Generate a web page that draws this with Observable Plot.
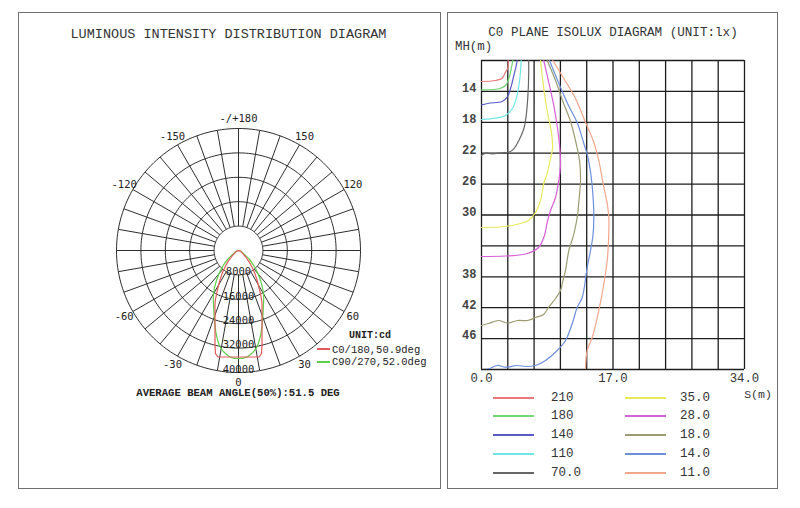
<!DOCTYPE html>
<html><head><meta charset="utf-8">
<script src="https://cdn.jsdelivr.net/npm/d3@7"></script>
<script src="https://cdn.jsdelivr.net/npm/@observablehq/plot@0.6"></script>
<style>
body{margin:0;background:#fff;}
#page{position:relative;width:800px;height:508px;background:#fff;overflow:hidden;font-family:"Liberation Mono","DejaVu Sans Mono",monospace;color:#333;}
.panel{position:absolute;border:1.5px solid #707070;box-sizing:border-box;}
.t{position:absolute;white-space:nowrap;line-height:1;}
.sw{position:absolute;height:2px;}
.plot{position:absolute;}
</style></head><body><div id="page"></div>
<script>
// ---------- DATA ----------
// Luminous intensity distribution (angle in degrees from nadir, intensity in cd)
const c0Angles = [-90,-75,-60,-49,-43,-40,-36,-33,-30,-27,-25,-24,-22,-20,-18,-16,-14,-12.6,-11,-9,-5,0,5,9,11,12.6,14,16,18,20,22,24,25,27,30,33,36,40,43,49,60,75,90];
const c0Cd     = [0,400,1200,3000,5200,6600,8900,10800,13000,15800,17900,18940,20570,22530,24930,27950,31850,34600,35570,35350,35050,34920,35050,35350,35570,34600,31850,27950,24930,22530,20570,18940,17900,15800,13000,10800,8900,6600,5200,3000,1200,400,0];
const c90Angles = [-90,-70,-56,-50.7,-43.4,-36.3,-30.2,-24.4,-18.9,-14.5,-10.5,-6.6,-3.2,0,3.2,6.6,10.5,14.5,18.9,24.4,30.2,36.3,43.4,50.7,56,70,90];
const c90Cd     = [0,800,2360,4660,8120,12200,16300,19800,24260,28790,32350,34330,35300,35400,35300,34330,32350,28790,24260,19800,16300,12200,8120,4660,2360,800,0];
const ringValues = [8000,16000,24000,32000,40000];
const angleTicks = [180,-150,150,-120,120,-60,60,-30,30,0];
const angleTickLabels = ["-/+180","-150","150","-120","120","-60","60","-30","30","0"];

// Isolux contours: [S (m), MH (m)]
const lux210 = [[0,12.72],[1.81,12.59],[2.67,12.29],[3.10,11.52],[3.40,11.0],[3.45,10.0]];
const lux180 = [[0,13.79],[2.24,13.66],[3.10,13.24],[3.53,12.37],[3.84,11.08],[4.05,10]];
const lux140 = [[0,15.74],[0.95,15.53],[2.67,15.31],[3.32,14.75],[3.75,13.66],[4.18,11.94],[4.49,10.65],[4.61,10]];
const lux110 = [[0,17.64],[1.81,17.47],[3.10,17.12],[3.97,16.25],[4.49,14.96],[4.83,13.24],[5.04,11.52],[5.13,10]];
const lux70  = [[0,22.3],[0.52,22.0],[1.38,22.08],[2.67,21.95],[3.53,21.87],[4.18,21.43],[4.83,20.36],[5.47,18.84],[5.78,17.12],[6.0,14.53],[6.1,11.94],[6.1,10]];
const lux35  = [[7.63,10],[8.05,13.62],[8.53,16.73],[9.05,19.32],[9.18,21.39],[8.86,22.94],[8.49,24.63],[8.05,25.92],[7.63,28.12],[6.98,29.68],[6.08,30.71],[4.78,31.17],[3.10,31.49],[0,31.62]];
const lux28  = [[8.05,10],[8.70,12.85],[9.35,15.83],[9.83,18.80],[10.15,21.65],[10.21,23.59],[9.99,25.53],[9.57,27.73],[8.92,29.42],[8.49,30.97],[8.14,32.65],[7.37,34.21],[5.69,35.05],[3.10,35.31],[0,35.37]];
const lux18  = [[8.49,10],[9.57,12.59],[10.47,15.18],[11.51,17.90],[12.15,20.36],[12.67,22.94],[12.80,25.53],[12.60,28.12],[12.37,30.32],[11.89,32.65],[11.29,34.60],[10.86,37.18],[10.47,38.74],[10.21,39.77],[9.57,40.81],[8.66,41.97],[8.02,42.88],[6.98,43.27],[5.95,43.66],[4.65,43.66],[3.36,43.98],[2.20,43.66],[0.90,44.05],[0,44.30]];
const lux14  = [[8.79,10],[9.95,12.85],[11.25,15.83],[12.37,18.03],[13.19,20.61],[13.70,22.30],[14.16,24.89],[14.41,27.48],[14.52,30.32],[14.41,32.65],[14.09,34.60],[13.66,36.80],[13.02,40.68],[12.37,41.97],[11.73,44.05],[10.86,46.25],[9.79,47.54],[8.27,48.83],[6.98,49.48],[5.69,49.61],[4.62,49.48],[3.10,49.70],[2.03,49.48],[0.94,49.91],[0,50.0]];
const lux11  = [[9.22,10],[10.64,12.33],[12.15,14.92],[13.44,17.99],[14.52,20.58],[15.16,22.94],[15.77,26.18],[16.25,28.51],[16.46,30.32],[16.42,33.30],[16.25,35.89],[15.60,40.16],[14.96,43.27],[14.31,45.86],[13.66,47.54],[13.44,50]];
const luxLabels = ["210","180","140","110","70.0","35.0","28.0","18.0","14.0","11.0"];
const luxColors = ["#ea7a7a","#72d672","#5b5bc8","#6fe6e6","#666666","#e8e85a","#d95fd9","#9c9c72","#6c8fdc","#f2a68a"];
const sGrid  = [0,3.4,6.8,10.2,13.6,17,20.4,23.8,27.2,30.6,34];
const mhGrid = [10,14,18,22,26,30,34,38,42,46,50];
const mhTicks = [14,18,22,26,30,38,42,46];
const sTicks = [0,17,34];

// ---------- PAGE ----------
const page = document.getElementById("page");
function box(x,y,w,h){const d=document.createElement("div");d.className="panel";Object.assign(d.style,{left:x+"px",top:y+"px",width:w+"px",height:h+"px"});page.appendChild(d);}
function T(txt,x,y,size,anchor="middle",weight="normal",color="#333"){
  const d=document.createElement("div");d.className="t";d.textContent=txt;
  const tx = anchor==="middle"?"-50%":anchor==="end"?"-100%":"0";
  Object.assign(d.style,{left:x+"px",top:y+"px",fontSize:size+"px",fontWeight:weight,color,transform:`translate(${tx},-50%)`});
  page.appendChild(d);
}
function sw(x1,x2,y,color){const d=document.createElement("div");d.className="sw";Object.assign(d.style,{left:x1+"px",top:Math.round(y-1)+"px",width:(x2-x1)+"px",background:color});page.appendChild(d);}
box(18,12,423,477);
box(447,12,331,477);

// ---------- POLAR PLOT ----------
const rad = Math.PI/180;
const k = 40000/122; // cd per px
const cx = 219, cy = 238, PW = 421, PH = 476;
const px = (a,I)=> I*Math.sin(a*rad);
const py = (a,I)=> -I*Math.cos(a*rad);
const ringPts = ringValues.flatMap(R => d3.range(0,361,2).map(a=>({R,a})));
const spokes = d3.range(-180,180,10);
const c0 = c0Angles.map((a,i)=>({a,I:c0Cd[i]}));
const c90 = c90Angles.map((a,i)=>({a,I:c90Cd[i]}));
const gridCol = "#2e2e2e";
const polar = Plot.plot({
  width: PW, height: PH, margin: 0,
  x: {domain: [-cx*k, (PW-cx)*k], axis: null},
  y: {domain: [-(PH-cy)*k, cy*k], axis: null},
  style: {background: "transparent", overflow: "visible"},
  marks: [
    Plot.line(ringPts, {x: d=>px(d.a,d.R), y: d=>py(d.a,d.R), z: "R", stroke: gridCol, strokeWidth: 1}),
    Plot.link(spokes, {x1: a=>px(a,8000), y1: a=>py(a,8000), x2: a=>px(a,40000), y2: a=>py(a,40000), stroke: gridCol, strokeWidth: 1}),
    Plot.line(c90, {x: d=>px(d.a,d.I), y: d=>py(d.a,d.I), stroke: "#5fcf4a", strokeWidth: 1.2, curve: "catmull-rom"}),
    Plot.line(c0, {x: d=>px(d.a,d.I), y: d=>py(d.a,d.I), stroke: "#e25a5a", strokeWidth: 1.2}),
    Plot.text(ringValues, {x: 0, y: R=>-R, dy: -3, text: R=>String(R), fontFamily: "DejaVu Sans Mono", fontSize: 10.5, fill: "#222"}),
    Plot.text(angleTicks, {x: a=>px(a,43300), y: a=>py(a,43300), text: (a,i)=>angleTickLabels[i], fontFamily: "DejaVu Sans Mono", fontSize: 10.5, fill: "#222"})
  ]
});
polar.classList.add("plot");
Object.assign(polar.style,{left:"19px",top:"12px"});
page.appendChild(polar);

T("LUMINOUS INTENSITY DISTRIBUTION DIAGRAM",228.5,35,13.5,"middle","normal","#333");
T("UNIT:cd",370,336,10,"middle","bold","#222");
sw(317,330,349.3,"#e25a5a");
T("C0/180,50.9deg",332,349.5,10.5,"start","normal","#222");
sw(317,330,361.7,"#5fcf4a");
T("C90/270,52.0deg",332,362,10.5,"start","normal","#222");
T("AVERAGE BEAM ANGLE(50%):51.5 DEG",238,393,10.6,"middle","bold","#222");

// ---------- ISOLUX PLOT ----------
const series = [lux210,lux180,lux140,lux110,lux70,lux35,lux28,lux18,lux14,lux11];
const luxRows = series.flatMap((pts,i)=>pts.map(([s,mh])=>({s,mh,lab:luxLabels[i]})));
const iso = Plot.plot({
  width: 329, height: 476,
  marginLeft: 33, marginRight: 33, marginTop: 48, marginBottom: 119,
  x: {domain: [0,34], axis: null},
  y: {domain: [10,50], reverse: true, axis: null},
  color: {domain: luxLabels, range: luxColors},
  style: {background: "transparent", overflow: "visible"},
  marks: [
    Plot.ruleX(sGrid, {y1: 10, y2: 50, stroke: "#1e1e1e", strokeWidth: 1.3}),
    Plot.ruleY(mhGrid, {x1: 0, x2: 34, stroke: "#1e1e1e", strokeWidth: 1.3}),
    Plot.line(luxRows, {x: "s", y: "mh", z: "lab", stroke: "lab", strokeWidth: 1.2, curve: "catmull-rom", clip: true}),
    Plot.text(mhTicks, {x: 0, y: d=>d, dx: -5, dy: -3, textAnchor: "end", text: d=>String(d), fontFamily: "Liberation Mono", fontWeight: "bold", fontSize: 12, fill: "#444"}),
    Plot.text(sTicks, {x: d=>d, y: 50, dy: 9, text: d=>d.toFixed(1), fontFamily: "Liberation Mono", fontSize: 12.3, fill: "#333"})
  ]
});
iso.classList.add("plot");
Object.assign(iso.style,{left:"448px",top:"12px"});
page.appendChild(iso);

T("C0 PLANE ISOLUX DIAGRAM (UNIT:lx)",613,33,12.6,"middle","normal","#333");
T("MH(m)",455,47,12.4,"start","normal","#333");
T("S(m)",758,395,11.5,"middle","normal","#333");
luxLabels.forEach((lab,i)=>{
  const col = i<5?0:1, row = i%5;
  const y = 397.7 + row*18.75;
  const x1 = col===0?493:625, x2 = col===0?534:666, tx = col===0?551:680;
  sw(x1,x2,y,luxColors[i]);
  T(lab,tx,y,12.5,"start","normal","#333");
});
</script></body></html>
